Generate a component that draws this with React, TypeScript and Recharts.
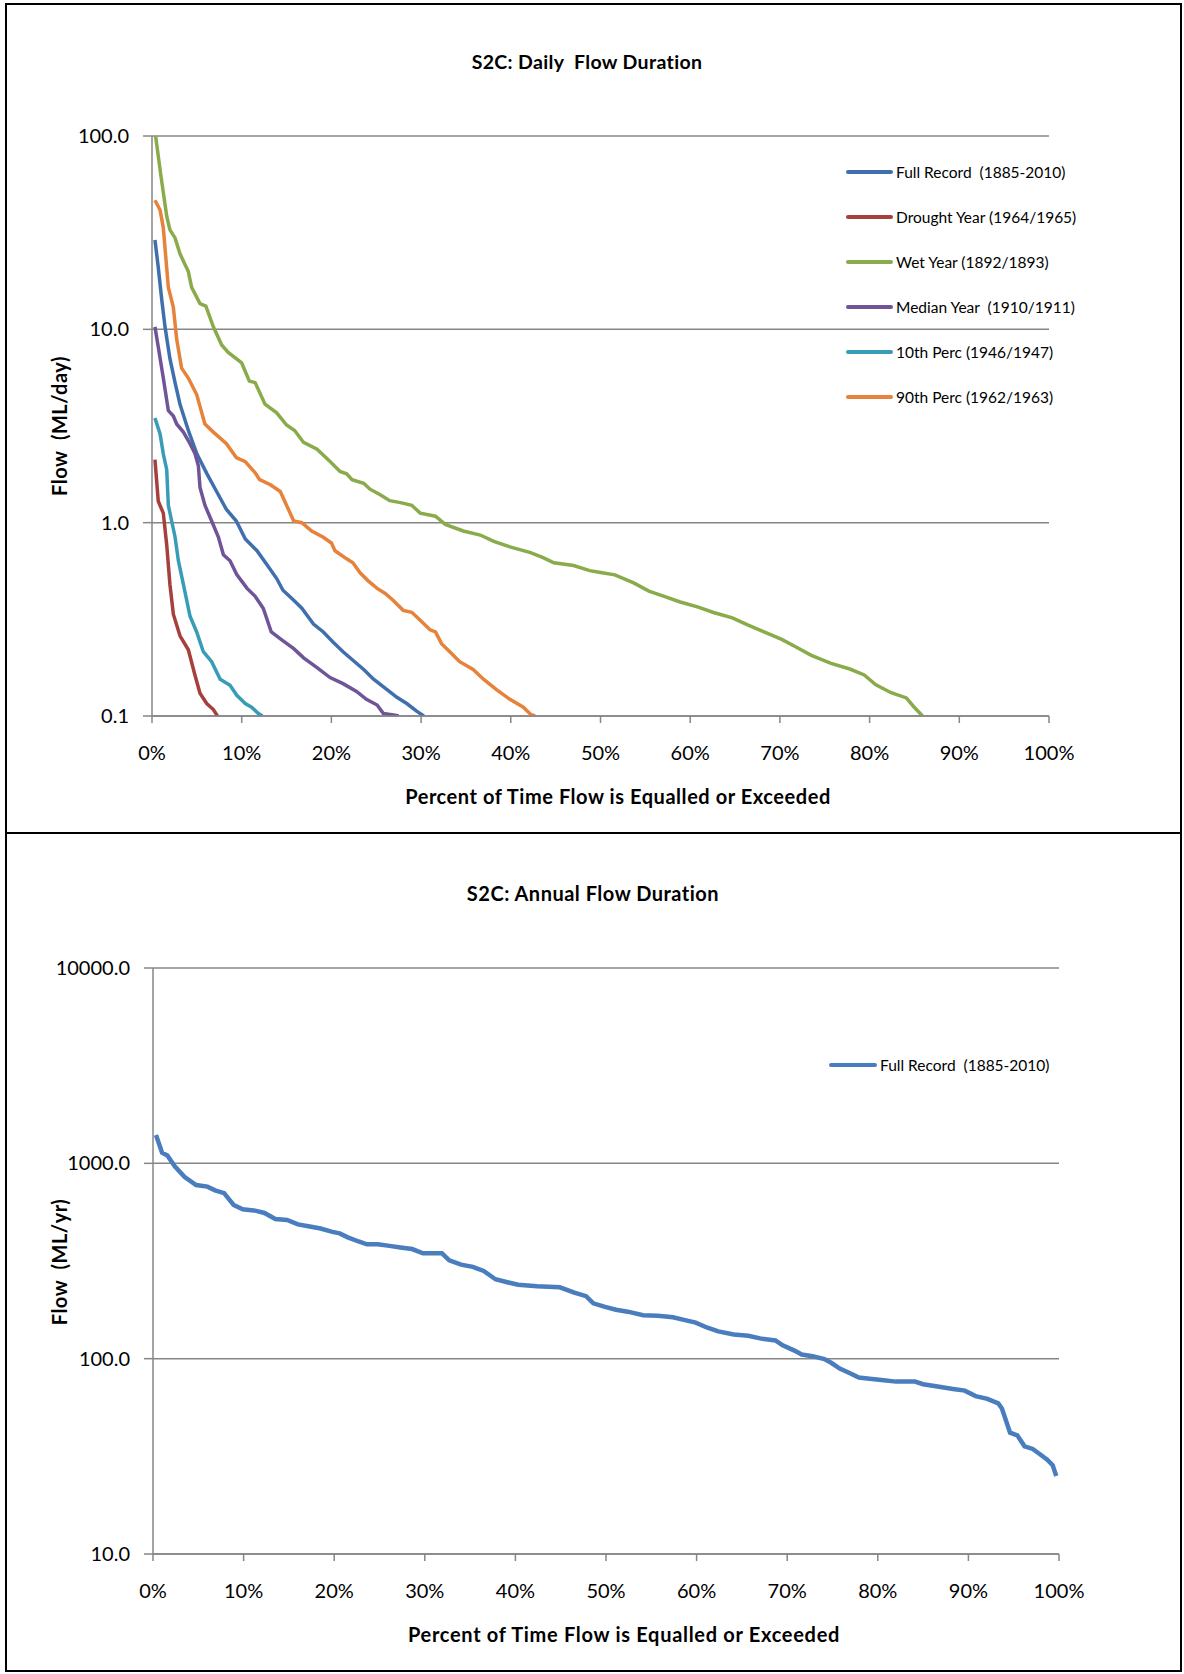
import React from 'react';
import { LineChart, Line, XAxis, YAxis, CartesianGrid, Legend } from 'recharts';

// ---- Daily flow duration (percent exceeded, ML/day) ----
const fullRecordDaily: [number, number][] = [
  [0.33, 29], [0.7, 20.9], [1.08, 14.3], [1.45, 10.3], [2.0, 7.05], [2.57, 5.3], [3.12, 4.1], [4.05, 3.0],
  [5.0, 2.27], [6.1, 1.8], [7.2, 1.45], [8.3, 1.17], [9.4, 1.02], [10.4, 0.824], [11.7, 0.716], [12.8, 0.607],
  [13.9, 0.514], [14.6, 0.447], [15.8, 0.397], [16.7, 0.361], [18.0, 0.299], [19.1, 0.272], [20.2, 0.241],
  [21.3, 0.215], [22.3, 0.196], [23.6, 0.174], [24.7, 0.155], [26.2, 0.137], [27.3, 0.125], [28.4, 0.116],
  [29.5, 0.106], [30.3, 0.1],
];
const droughtYear: [number, number][] = [
  [0.33, 2.12], [0.7, 1.29], [1.26, 1.12], [1.64, 0.767], [2.0, 0.479], [2.38, 0.336], [3.12, 0.26],
  [4.05, 0.22], [4.8, 0.162], [5.35, 0.131], [6.1, 0.116], [6.84, 0.108], [7.3, 0.1],
];
const wetYear: [number, number][] = [
  [0.4, 100], [1.0, 62], [1.64, 38.5], [2.0, 32.7], [2.57, 29.7], [3.12, 24.6], [4.05, 19.9], [4.42, 16.5],
  [5.35, 13.6], [6.0, 13.2], [6.84, 10.3], [7.77, 8.3], [8.5, 7.6], [10.0, 6.7], [10.85, 5.4], [11.5, 5.3],
  [12.6, 4.1], [13.9, 3.7], [15.0, 3.2], [15.9, 3.0], [16.9, 2.6], [18.4, 2.4], [19.85, 2.07], [20.96, 1.84],
  [21.7, 1.79], [22.3, 1.67], [23.6, 1.6], [24.3, 1.49], [25.4, 1.4], [26.5, 1.3], [27.7, 1.27], [28.96, 1.23],
  [29.9, 1.12], [31.6, 1.08], [32.7, 0.98], [34.7, 0.906], [36.6, 0.863], [38.1, 0.8], [39.9, 0.75],
  [42.2, 0.7], [43.6, 0.66], [44.8, 0.62], [47.0, 0.6], [48.8, 0.565], [50.0, 0.553], [51.6, 0.537],
  [53.7, 0.488], [55.4, 0.443], [57.1, 0.416], [58.8, 0.39], [60.9, 0.366], [62.6, 0.343], [64.7, 0.322],
  [66.4, 0.296], [68.1, 0.274], [70.2, 0.249], [71.9, 0.226], [73.5, 0.206], [75.7, 0.187], [77.8, 0.175],
  [79.4, 0.163], [80.7, 0.145], [82.4, 0.132], [84.1, 0.124], [84.9, 0.112], [85.9, 0.1],
];
const medianYear: [number, number][] = [
  [0.33, 10.3], [0.7, 8.1], [1.26, 5.6], [1.82, 3.8], [2.38, 3.56], [2.75, 3.24], [3.5, 2.94], [4.24, 2.56],
  [4.8, 2.27], [5.17, 1.97], [5.35, 1.52], [5.9, 1.23], [6.65, 1.02], [7.4, 0.843], [7.96, 0.682],
  [8.7, 0.635], [9.45, 0.539], [10.6, 0.457], [11.5, 0.416], [12.4, 0.361], [13.3, 0.272], [14.5, 0.247],
  [15.8, 0.223], [16.9, 0.2], [18.4, 0.178], [19.85, 0.158], [21.3, 0.147], [22.8, 0.134], [23.9, 0.122],
  [25.1, 0.114], [25.8, 0.103], [27.1, 0.101], [27.5, 0.1],
];
const tenthPerc: [number, number][] = [
  [0.33, 3.48], [0.9, 2.88], [1.26, 2.27], [1.64, 1.88], [1.82, 1.23], [2.19, 1.02], [2.57, 0.843],
  [2.94, 0.636], [3.5, 0.479], [4.24, 0.328], [4.98, 0.272], [5.72, 0.215], [6.65, 0.191], [7.6, 0.155],
  [8.7, 0.144], [9.45, 0.128], [10.4, 0.116], [11.1, 0.111], [11.86, 0.103], [12.3, 0.1],
];
const ninetiethPerc: [number, number][] = [
  [0.33, 46.5], [0.9, 41.4], [1.26, 33.5], [1.82, 16.5], [2.38, 13.0], [2.75, 8.9], [3.3, 6.3], [4.05, 5.6],
  [4.98, 4.6], [5.9, 3.24], [6.84, 2.94], [8.3, 2.56], [9.4, 2.17], [10.4, 2.07], [11.5, 1.81], [12.0, 1.67],
  [13.2, 1.57], [14.3, 1.45], [15.0, 1.23], [15.8, 1.02], [16.7, 1.0], [17.8, 0.905], [19.1, 0.84],
  [20.0, 0.785], [20.4, 0.716], [21.7, 0.65], [22.4, 0.62], [23.2, 0.55], [24.1, 0.5], [25.1, 0.457],
  [26.0, 0.43], [26.9, 0.396], [28.0, 0.352], [28.96, 0.344], [29.9, 0.313], [31.0, 0.279], [31.6, 0.272],
  [32.3, 0.236], [33.2, 0.215], [34.3, 0.191], [35.8, 0.174], [36.95, 0.155], [38.4, 0.137], [39.9, 0.122],
  [41.4, 0.111], [42.2, 0.102], [42.7, 0.1],
];

// ---- Annual flow duration (percent exceeded, ML/yr) ----
const fullRecordAnnual: [number, number][] = [
  [0.33, 1397], [1.0, 1133], [1.59, 1097], [2.4, 966], [3.5, 851], [4.76, 774], [6.0, 760], [6.85, 727],
  [7.85, 704], [8.9, 612], [9.9, 582], [11.4, 571], [12.3, 557], [13.5, 519], [14.8, 513], [16.0, 487],
  [17.3, 475], [18.5, 464], [19.8, 446], [20.6, 438], [21.5, 418], [22.7, 398], [23.6, 385], [24.8, 385],
  [26.1, 378], [27.3, 371], [28.6, 364], [29.8, 346], [31.9, 346], [32.7, 319], [34.0, 303], [35.3, 295],
  [36.5, 281], [37.8, 255], [39.0, 247], [40.3, 239], [42.4, 235], [44.9, 232], [46.5, 218], [47.8, 209],
  [48.6, 192], [49.9, 184], [51.1, 178], [52.4, 174], [54.1, 167], [55.7, 166], [57.4, 163], [58.6, 158],
  [59.9, 153], [61.2, 144], [62.4, 138], [64.1, 133], [65.7, 131], [67.0, 127], [68.7, 124], [69.5, 117],
  [70.8, 110], [71.6, 105], [72.8, 103], [74.1, 99.6], [74.9, 95], [75.8, 89], [77.0, 84], [77.9, 80],
  [79.1, 79], [80.4, 77.8], [82.0, 76.3], [84.1, 76.3], [85.0, 74], [86.6, 72], [88.3, 70], [89.6, 68.6],
  [90.8, 64.3], [92.1, 62.3], [93.3, 59], [93.7, 55.6], [94.6, 41.8], [95.4, 40.5], [96.2, 35.6],
  [97.1, 34.5], [97.9, 32.4], [98.7, 30.4], [99.3, 28.5], [99.7, 25.1],
];

const percentTicks = [0, 10, 20, 30, 40, 50, 60, 70, 80, 90, 100];
const dailyTicks = [0.1, 1, 10, 100];
const annualTicks = [10, 100, 1000, 10000];

const dailySeries = [
  { name: 'Full Record  (1885-2010)', color: '#3F6FAD', points: fullRecordDaily },
  { name: 'Drought Year (1964/1965)', color: '#A7403C', points: droughtYear },
  { name: 'Wet Year (1892/1893)', color: '#89AB4B', points: wetYear },
  { name: 'Median Year  (1910/1911)', color: '#6F5597', points: medianYear },
  { name: '10th Perc (1946/1947)', color: '#399CB7', points: tenthPerc },
  { name: '90th Perc (1962/1963)', color: '#E6823A', points: ninetiethPerc },
];
const annualSeries = [
  { name: 'Full Record  (1885-2010)', color: '#4A7DBE', points: fullRecordAnnual },
];

const toData = (pts: [number, number][]) => pts.map(([x, y]) => ({ x, y }));

const FONT = 'Lato, "Open Sans", sans-serif';
const GRID = '#868686';

const LegendBox = ({ items, rowGap, lineW }: { items: { name: string; color: string }[]; rowGap: number; lineW: number }) => (
  <div style={{ fontFamily: FONT, fontSize: 15.5, color: '#000' }}>
    {items.map((it) => (
      <div key={it.name} style={{ display: 'flex', alignItems: 'center', height: rowGap, whiteSpace: 'pre' }}>
        <div style={{ width: lineW, height: 4, borderRadius: 2, background: it.color, marginRight: 3 }} />
        <span>{it.name}</span>
      </div>
    ))}
  </div>
);

const pctFmt = (v: number) => `${v}%`;
const oneDec = (v: number) => v.toFixed(1);

export default function App() {
  const tickStyle = { fill: '#000', fontSize: 20, fontFamily: FONT };
  const axisCommon = {
    axisLine: { stroke: GRID, strokeWidth: 1.5 },
    tickLine: { stroke: GRID, strokeWidth: 1.5 },
    tick: tickStyle,
    allowDataOverflow: true,
  };
  return (
    <div style={{ position: 'absolute', left: 0, top: 0, width: 1184, height: 1674, background: '#fff', fontFamily: FONT }}>
      {/* borders */}
      <div style={{ position: 'absolute', left: 5, top: 3, width: 1173, height: 1665, border: '2px solid #000' }} />
      <div style={{ position: 'absolute', left: 5, top: 832, width: 1177, height: 2, background: '#000' }} />

      {/* top chart */}
      <div style={{ position: 'absolute', left: 0, top: 0 }}>
        <LineChart width={1184} height={833} margin={{ top: 136, right: 135, bottom: 57, left: 0 }}>
          <CartesianGrid vertical={false} stroke={GRID} strokeWidth={1.5} />
          <XAxis
            type="number"
            dataKey="x"
            domain={[0, 100]}
            ticks={percentTicks}
            tickFormatter={pctFmt}
            height={60}
            tickSize={7}
            tickMargin={23}
            {...axisCommon}
          />
          <YAxis
            type="number"
            dataKey="y"
            scale="log"
            domain={[0.1, 100]}
            ticks={dailyTicks}
            tickFormatter={oneDec}
            width={152}
            tickSize={9}
            tickMargin={14}
            {...axisCommon}
          />
          {dailySeries.map((s) => (
            <Line
              key={s.name}
              data={toData(s.points)}
              dataKey="y"
              name={s.name}
              type="linear"
              stroke={s.color}
              strokeWidth={3.5}
              dot={false}
              isAnimationActive={false}
            />
          ))}
          <Legend
            layout="vertical"
            align="center"
            verticalAlign="middle"
            wrapperStyle={{ left: 846, top: 149, width: 330 }}
            content={() => <LegendBox items={dailySeries} rowGap={45} lineW={47} />}
          />
        </LineChart>
      </div>

      {/* bottom chart */}
      <div style={{ position: 'absolute', left: 0, top: 833 }}>
        <LineChart width={1184} height={841} margin={{ top: 135, right: 125, bottom: 60, left: 0 }}>
          <CartesianGrid vertical={false} stroke={GRID} strokeWidth={1.5} />
          <XAxis
            type="number"
            dataKey="x"
            domain={[0, 100]}
            ticks={percentTicks}
            tickFormatter={pctFmt}
            height={60}
            tickSize={7}
            tickMargin={23}
            {...axisCommon}
          />
          <YAxis
            type="number"
            dataKey="y"
            scale="log"
            domain={[10, 10000]}
            ticks={annualTicks}
            tickFormatter={oneDec}
            width={153}
            tickSize={9}
            tickMargin={14}
            {...axisCommon}
          />
          {annualSeries.map((s) => (
            <Line
              key={s.name}
              data={toData(s.points)}
              dataKey="y"
              name={s.name}
              type="linear"
              stroke={s.color}
              strokeWidth={4.5}
              dot={false}
              isAnimationActive={false}
            />
          ))}
          <Legend
            layout="vertical"
            align="center"
            verticalAlign="middle"
            wrapperStyle={{ left: 829, top: 209, width: 330 }}
            content={() => <LegendBox items={annualSeries} rowGap={45} lineW={48} />}
          />
        </LineChart>
      </div>

      {/* titles */}
      <div style={{ position: 'absolute', left: 0, width: 1174, top: 50, textAlign: 'center', fontWeight: 700, fontSize: 19.5, letterSpacing: 0.35, whiteSpace: 'pre' }}>
        S2C: Daily  Flow Duration
      </div>
      <div style={{ position: 'absolute', left: 0, width: 1186, top: 881, textAlign: 'center', fontWeight: 700, fontSize: 20, letterSpacing: 0.5, whiteSpace: 'pre' }}>
        S2C: Annual Flow Duration
      </div>
      <div style={{ position: 'absolute', left: 0, width: 1236, top: 784, textAlign: 'center', fontWeight: 700, fontSize: 20, letterSpacing: 0.55 }}>
        Percent of Time Flow is Equalled or Exceeded
      </div>
      <div style={{ position: 'absolute', left: 0, width: 1248, top: 1622, textAlign: 'center', fontWeight: 700, fontSize: 20, letterSpacing: 0.7 }}>
        Percent of Time Flow is Equalled or Exceeded
      </div>
      <div style={{ position: 'absolute', left: 59, top: 426, width: 0, height: 0 }}>
        <div style={{ position: 'absolute', transform: 'translate(-50%, -50%) rotate(-90deg)', fontWeight: 700, fontSize: 20, whiteSpace: 'pre', letterSpacing: 0.5 }}>
          Flow  (ML/day)
        </div>
      </div>
      <div style={{ position: 'absolute', left: 59, top: 1262, width: 0, height: 0 }}>
        <div style={{ position: 'absolute', transform: 'translate(-50%, -50%) rotate(-90deg)', fontWeight: 700, fontSize: 20, whiteSpace: 'pre', letterSpacing: 0.5 }}>
          Flow  (ML/yr)
        </div>
      </div>
    </div>
  );
}
